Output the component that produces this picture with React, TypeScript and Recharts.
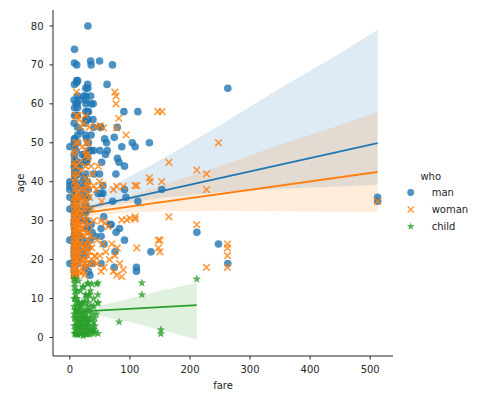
import { ComposedChart, Scatter, Line, Area, XAxis, YAxis, Legend } from 'recharts';

const BLUE = '#1f77b4';
const ORANGE = '#ff7f0e';
const GREEN = '#2ca02c';

// [fare, age]
const manPoints: [number, number][] = [
  [0, 36], [0, 40], [0, 19], [0, 25], [0, 49], [0, 38], [0, 39], [0, 33],
  [7.25, 22], [7.25, 35], [7.25, 30], [7.25, 39], [7.25, 55], [7.25, 18], [7.25, 26], [7.25, 44],
  [7.05, 61], [7.05, 50], [7.05, 17], [7.05, 29], [7.23, 21], [7.23, 47], [7.23, 23], [7.23, 34],
  [7.75, 40], [7.75, 19], [7.75, 33], [7.75, 65], [7.75, 70.5], [7.75, 49], [7.75, 29], [7.75, 24], [7.75, 57],
  [7.85, 59], [7.85, 31], [7.85, 42], [7.85, 20], [7.9, 28], [7.9, 24], [7.9, 45], [7.9, 36], [7.9, 16], [7.9, 51],
  [7.925, 26], [7.925, 29], [7.925, 37], [7.925, 22], [7.8, 74],
  [8.05, 35], [8.05, 20], [8.05, 18], [8.05, 25], [8.05, 51], [8.05, 43], [8.05, 32], [8.05, 38], [8.05, 28], [8.05, 46],
  [8.66, 16], [8.66, 27], [8.46, 41], [8.46, 21], [9.5, 27], [9.5, 45], [9.23, 44], [9.35, 36], [9.84, 23],
  [10.5, 32], [10.5, 60], [10.5, 35], [10.5, 57], [10.5, 48], [10.5, 25], [10.5, 42],
  [11.5, 24], [11.5, 65.5], [11.5, 66], [11.5, 70], [12.35, 33], [12.5, 60], [12.48, 57], [12.9, 59],
  [13, 27], [13, 23], [13, 42], [13, 54], [13, 50], [13, 19], [13, 30], [13, 36], [13, 66], [13, 52], [13, 62], [13, 44], [13, 39],
  [13.5, 39], [13.86, 21], [14.45, 45], [14.5, 42], [14.5, 31], [15.05, 31], [15.5, 36], [15.5, 61], [15.85, 20],
  [16.1, 32], [16.1, 44], [16.1, 26], [18, 53], [19.5, 30], [20.5, 37], [20.5, 47], [21, 22], [21.08, 40],
  [22.03, 25], [23, 38], [23.45, 62], [24, 41], [24.15, 47], [25.93, 32], [26, 34], [26, 30], [26, 52], [26, 21],
  [26, 55], [26, 39], [26, 46], [26, 24], [26, 18], [26.29, 36],
  [26.55, 47], [26.55, 45], [26.55, 62], [26.55, 58], [26.55, 28], [26.55, 42], [26.55, 61], [26.55, 64], [26.55, 56], [26.55, 60],
  [27, 33], [27.72, 56], [27.72, 51], [27.72, 45], [28.5, 30], [29, 40], [29.7, 65], [29.7, 36], [30, 28], [30, 64],
  [30, 23], [30, 46], [30, 58], [30.5, 56], [30.7, 33], [31, 50], [31, 58], [31, 17], [31, 38], [31, 48], [30, 80],
  [33.5, 16], [34, 25], [34.65, 48], [34.65, 71], [34.7, 62], [35.5, 70], [35.5, 48], [35.5, 52], [35.5, 29], [35.5, 60],
  [36.75, 19], [37, 27], [38.5, 56], [39, 60], [39.6, 48], [39.6, 54], [40.1, 42],
  [42.4, 26], [46.9, 37], [49.5, 71], [49.5, 42], [50, 48], [50.5, 54], [51.86, 54], [52, 37], [52, 28], [52, 26],
  [52, 19], [53.1, 45], [55, 37], [55, 39], [56.5, 31], [57, 24], [58, 51], [59.4, 47], [61.2, 50], [62.3, 48],
  [61.98, 65], [66.6, 29], [69, 29], [71, 70], [71.3, 35], [74, 51.4], [74, 18], [75.25, 22], [76.7, 42], [77, 27],
  [79, 54], [79.2, 46], [81.9, 45], [82.7, 28], [86.5, 49], [90, 58], [91, 38], [91, 25], [91, 44], [93.5, 36],
  [104, 50], [108.7, 49], [110.9, 18], [110.9, 17], [113.28, 58], [113.3, 35], [132.5, 50], [135, 22], [153, 38],
  [211.5, 27], [247.5, 24], [263, 64], [263, 19], [512.33, 35], [512.33, 36],
];

const womanPoints: [number, number][] = [
  [7.75, 16], [7.75, 17], [7.75, 18], [7.75, 19], [7.88, 21], [7.88, 22], [7.73, 23], [7.73, 24], [7.23, 25],
  [7.23, 27], [7.93, 28], [8.05, 29], [7.85, 30], [8.05, 31], [7.75, 32], [7.75, 33], [7.25, 35], [8.66, 36],
  [7.75, 38], [7.23, 40], [9.5, 41], [7.65, 45], [7.75, 47], [8.05, 48], [9.48, 50], [7, 20], [7, 26], [7.1, 34],
  [6.75, 22], [6.95, 18], [10.5, 18], [10.5, 24], [10.5, 28], [10.5, 34], [10.5, 44], [11.13, 27], [11.13, 20],
  [12.35, 22], [12.48, 30], [13, 20], [13, 25], [13, 29], [13, 32], [13, 36], [13, 42], [13, 50], [11, 63], [13, 57],
  [10.3, 57], [14, 56], [18, 54], [14.45, 23], [14.45, 30], [14.5, 39], [15.5, 21], [15.5, 33], [15.5, 45], [15.85, 17],
  [16.1, 26], [16.7, 24], [16.7, 29], [17.4, 31], [18, 27], [18, 36], [19.97, 20], [20.25, 43], [20.5, 38], [21, 28],
  [21, 49], [22.36, 23], [23, 19], [23, 55], [23.25, 33], [24, 36], [24.15, 16], [26, 20], [26, 24], [26, 27],
  [26, 30], [26, 34], [26, 38], [26, 41], [26, 44], [26, 48], [26, 57], [26.25, 18], [26.25, 22], [27, 31],
  [27, 46.7], [27.72, 35], [28, 50], [28.5, 40], [29, 47], [29.13, 39], [30, 21], [30, 25], [30, 46], [30, 50],
  [31.28, 22], [31.28, 39], [31.39, 27], [32.5, 54], [33, 36], [34.38, 19], [34.65, 26], [35.5, 44], [36.75, 23],
  [37, 33], [38, 42], [39, 19.5], [39.6, 30], [39.69, 39], [41.58, 21], [42, 20.8], [43.7, 54.2], [44, 38],
  [45, 25], [46, 19], [47.5, 44], [49.5, 40], [50, 21], [50.3, 54.4], [52, 17], [52, 30], [53.1, 35], [55, 39.2],
  [55, 24], [56, 53.8], [57, 18], [58.7, 29.4], [60, 22], [64, 28.5], [66, 20], [70, 24], [72.5, 17], [72.5, 38],
  [75, 63], [75, 21], [77, 62], [77, 60], [78, 53.8], [78, 16], [78, 38.8], [79, 23], [81.5, 56.3], [83, 19],
  [86.5, 15.6], [86.5, 30.2], [89, 38.8], [89, 17.4], [93.7, 52], [94.8, 30.2], [100, 30.6], [108.7, 39],
  [108.7, 30.4], [108.8, 31], [111.5, 39], [111.5, 23], [132.5, 41], [133.7, 40], [146.52, 58], [147.5, 25],
  [147.5, 23], [150, 25], [150, 22], [153.46, 58], [153, 40], [164.87, 45], [164.87, 31], [211.34, 43], [211.34, 29],
  [227.53, 42], [227.53, 38], [227.53, 18], [247.52, 50], [262.38, 24], [262.38, 23], [262.38, 21], [262.38, 18],
  [512.33, 35],
  // dense column, third-class fares
  [7.8, 15.5], [7.9, 17.5], [8.1, 19.5], [8.5, 21.5], [8.9, 23.5], [9.2, 25.5], [9.8, 27.5], [10.5, 29.5],
  [11.5, 31.5], [12.2, 33.5], [12.8, 35.5], [14, 37.5], [15, 26.5], [16, 19], [17, 22], [18.5, 24], [19.5, 28],
  [20, 32], [21.5, 35], [22, 17], [24, 26], [25, 29], [27, 19], [28, 23], [29, 33], [30.5, 37], [32, 29],
  [33, 24], [7.2, 42], [8.3, 44], [9, 39], [6.9, 31], [6.8, 36], [7.1, 24], [7.6, 27], [8.2, 33], [9.6, 18],
  [11.2, 16], [12, 25], [14.5, 28], [16.5, 34], [19, 16.5], [7.4, 29.5], [8.7, 31], [11.8, 37], [6.9, 16],
];

const childPoints: [number, number][] = [
  [21.08, 2], [11.13, 4], [30.07, 14], [16.7, 4], [31.28, 2], [29.13, 2], [7.23, 15], [27.9, 3], [29.13, 8],
  [46.9, 9], [7.85, 14], [7.23, 8], [31.28, 4], [39.69, 1], [39.69, 4], [39.69, 8], [39.69, 10], [39.69, 2],
  [11.24, 9], [11.24, 1], [7.75, 5], [20.58, 3], [20.58, 4], [46.9, 1], [46.9, 14], [41.58, 3], [41.58, 5],
  [34.38, 2], [27.9, 1], [27.9, 10], [29, 4], [26, 1], [26, 3], [23, 6], [23, 0.83], [33, 11], [36.75, 8],
  [36.75, 2], [18.75, 0.92], [19.26, 6], [15.25, 3], [15.75, 7], [14.45, 14.5], [12.29, 12], [13.42, 0.75],
  [15.9, 5], [15.25, 9], [14.4, 9], [12.48, 7], [18.75, 8], [8.52, 15], [9.35, 1], [7.23, 6], [22.36, 9],
  [31.39, 2], [31.39, 9], [27.75, 1], [21.68, 13], [31.39, 11], [26.25, 4], [20.53, 5], [39, 2], [22.03, 0.42],
  [8.52, 12], [19.5, 3], [20.21, 6], [12.18, 4], [30, 7], [33, 2], [25.47, 5], [34.38, 12], [30, 13.7],
  [36.5, 13.7], [44.8, 13.7], [46.5, 11], [46.5, 8.8], [120, 14], [120, 11], [81.86, 4], [151.55, 2],
  [151.55, 0.92], [211.34, 15], [11.5, 0.67], [14.5, 2], [24.15, 1], [31.39, 0.83], [8.05, 10], [7.9, 13],
  [10.5, 3], [13, 8], [25.93, 11], [26.55, 5],
  [7.3, 3], [7.9, 1], [8.3, 5], [9, 2], [9.6, 7], [10.5, 1.2], [11, 6], [12, 3], [13, 5], [13.8, 1],
  [14.5, 6], [16, 2], [17, 8], [18, 4], [19, 1], [20, 9], [21, 5], [22, 2], [23.5, 7], [24.5, 3],
  [25, 9], [27, 6], [28, 0.9], [29.5, 5], [30.5, 3], [32, 7], [33.5, 5], [35, 1], [37, 6], [38, 3],
  [9.5, 11], [12, 10], [17.5, 12], [23, 13], [27, 11], [7.6, 10], [8.9, 7], [44, 6], [42, 1.5], [36, 4.5],
];

// regression fits
const manLineX = [0, 512.33];
const manLineY = [32.4, 49.9];
const womanLineX = [6.75, 512.33];
const womanLineY = [31.6, 42.5];
const childLineX = [7.2, 211.34];
const childLineY = [6.6, 8.3];

// confidence bands
const manBandX = [0, 40, 80, 150, 250, 350, 450, 512.33];
const manBandLo = [30.8, 33.0, 34.2, 35.8, 37.3, 38.2, 38.8, 39.2];
const manBandHi = [34.2, 36.3, 39.7, 45.5, 54.5, 64, 73, 79];
const womanBandX = [6.75, 40, 80, 150, 250, 350, 450, 512.33];
const womanBandLo = [30.2, 31.2, 32, 32.4, 32.5, 32.4, 32.3, 32.2];
const womanBandHi = [33, 33.8, 35.5, 39, 44, 49.5, 54.5, 58];
const childBandX = [7.2, 50, 100, 150, 211.34];
const childBandLo = [4.8, 5.5, 4.0, 2.0, -0.5];
const childBandHi = [8.0, 8.2, 10, 12, 14];

const xTicks = [0, 100, 200, 300, 400, 500];
const yTicks = [0, 10, 20, 30, 40, 50, 60, 70, 80];
const legendItems = ['man', 'woman', 'child'];

const toXY = (pts: [number, number][]) => pts.map(([x, y]) => ({ x, y }));
const toLine = (xs: number[], ys: number[]) => xs.map((x, i) => ({ x, y: ys[i] }));
const toBand = (xs: number[], lo: number[], hi: number[]) =>
  xs.map((x, i) => ({ x, range: [lo[i], hi[i]] }));

const starPoints = (cx: number, cy: number, R: number, r: number) => {
  const pts: string[] = [];
  for (let i = 0; i < 10; i++) {
    const rad = i % 2 === 0 ? R : r;
    const a = -Math.PI / 2 + (i * Math.PI) / 5;
    pts.push(`${cx + rad * Math.cos(a)},${cy + rad * Math.sin(a)}`);
  }
  return pts.join(' ');
};

const DotShape = (p: any) => <circle cx={p.cx} cy={p.cy} r={3.8} fill={BLUE} fillOpacity={0.8} />;
const CrossShape = (p: any) => (
  <path
    d={`M${p.cx - 3.3},${p.cy - 3.3}L${p.cx + 3.3},${p.cy + 3.3}M${p.cx - 3.3},${p.cy + 3.3}L${p.cx + 3.3},${p.cy - 3.3}`}
    stroke={ORANGE}
    strokeOpacity={0.8}
    strokeWidth={1.6}
    fill="none"
  />
);
const StarShape = (p: any) => (
  <polygon points={starPoints(p.cx, p.cy, 4.5, 1.9)} fill={GREEN} fillOpacity={0.8} />
);

const LegendBox = () => (
  <svg width={80} height={72} style={{ fontFamily: 'DejaVu Sans', fontSize: 10 }}>
    <text x={35.7} y={11} textAnchor="middle" dominantBaseline="central" fill="#262626">who</text>
    {legendItems.map((name, i) => {
      const y = 27.5 + i * 17;
      return (
        <g key={name}>
          {i === 0 && <circle cx={15.7} cy={y} r={3.4} fill={BLUE} fillOpacity={0.8} />}
          {i === 1 && (
            <path d={`M12.7,${y - 3}L18.7,${y + 3}M12.7,${y + 3}L18.7,${y - 3}`} stroke={ORANGE} strokeOpacity={0.8} strokeWidth={1.5} />
          )}
          {i === 2 && <polygon points={starPoints(15.7, y, 4, 1.7)} fill={GREEN} fillOpacity={0.8} />}
          <text x={36.7} y={y} dominantBaseline="central" fill="#262626">{name}</text>
        </g>
      );
    })}
  </svg>
);

const tickStyle = { fontSize: 10, fill: '#262626', fontFamily: 'DejaVu Sans' };

export default function App() {
  return (
    <div style={{ position: 'absolute', left: 0, top: 0, fontFamily: 'DejaVu Sans', background: '#fff' }}>
      <ComposedChart width={483} height={397} margin={{ top: 10, right: 90, left: 0, bottom: 0 }}>
        <XAxis
          dataKey="x"
          type="number"
          domain={[-28, 538]}
          ticks={xTicks}
          allowDataOverflow
          height={41}
          tick={tickStyle}
          tickSize={3.5}
          tickMargin={6.5}
          stroke="#262626"
          label={{ value: 'fare', position: 'insideBottom', offset: 8.5, style: { fontSize: 10, fill: '#262626' } }}
        />
        <YAxis
          type="number"
          domain={[-4.75, 84.1]}
          ticks={yTicks}
          allowDataOverflow
          width={53}
          tick={tickStyle}
          tickSize={3.5}
          tickMargin={6}
          stroke="#262626"
          label={({ viewBox }: any) => {
            const cx = viewBox.x + 20;
            const cy = viewBox.y + viewBox.height / 2;
            return (
              <text x={cx} y={cy} transform={`rotate(-90 ${cx} ${cy})`} textAnchor="middle" dominantBaseline="central" fontSize={10} fill="#262626">
                age
              </text>
            );
          }}
        />
        <Scatter data={toXY(manPoints)} dataKey="y" shape={DotShape} isAnimationActive={false} />
        <Area data={toBand(manBandX, manBandLo, manBandHi)} dataKey="range" type="linear" stroke="none" fill={BLUE} fillOpacity={0.15} isAnimationActive={false} />
        <Line data={toLine(manLineX, manLineY)} dataKey="y" stroke={BLUE} strokeWidth={1.8} dot={false} isAnimationActive={false} />
        <Scatter data={toXY(womanPoints)} dataKey="y" shape={CrossShape} isAnimationActive={false} />
        <Area data={toBand(womanBandX, womanBandLo, womanBandHi)} dataKey="range" type="linear" stroke="none" fill={ORANGE} fillOpacity={0.15} isAnimationActive={false} />
        <Line data={toLine(womanLineX, womanLineY)} dataKey="y" stroke={ORANGE} strokeWidth={1.8} dot={false} isAnimationActive={false} />
        <Scatter data={toXY(childPoints)} dataKey="y" shape={StarShape} isAnimationActive={false} />
        <Area data={toBand(childBandX, childBandLo, childBandHi)} dataKey="range" type="linear" stroke="none" fill={GREEN} fillOpacity={0.15} isAnimationActive={false} />
        <Line data={toLine(childLineX, childLineY)} dataKey="y" stroke={GREEN} strokeWidth={1.8} dot={false} isAnimationActive={false} />
        <Legend
          layout="vertical"
          align="center"
          verticalAlign="middle"
          wrapperStyle={{ left: 395, top: 165, width: 80, height: 72 }}
          content={() => <LegendBox />}
        />
      </ComposedChart>
    </div>
  );
}
